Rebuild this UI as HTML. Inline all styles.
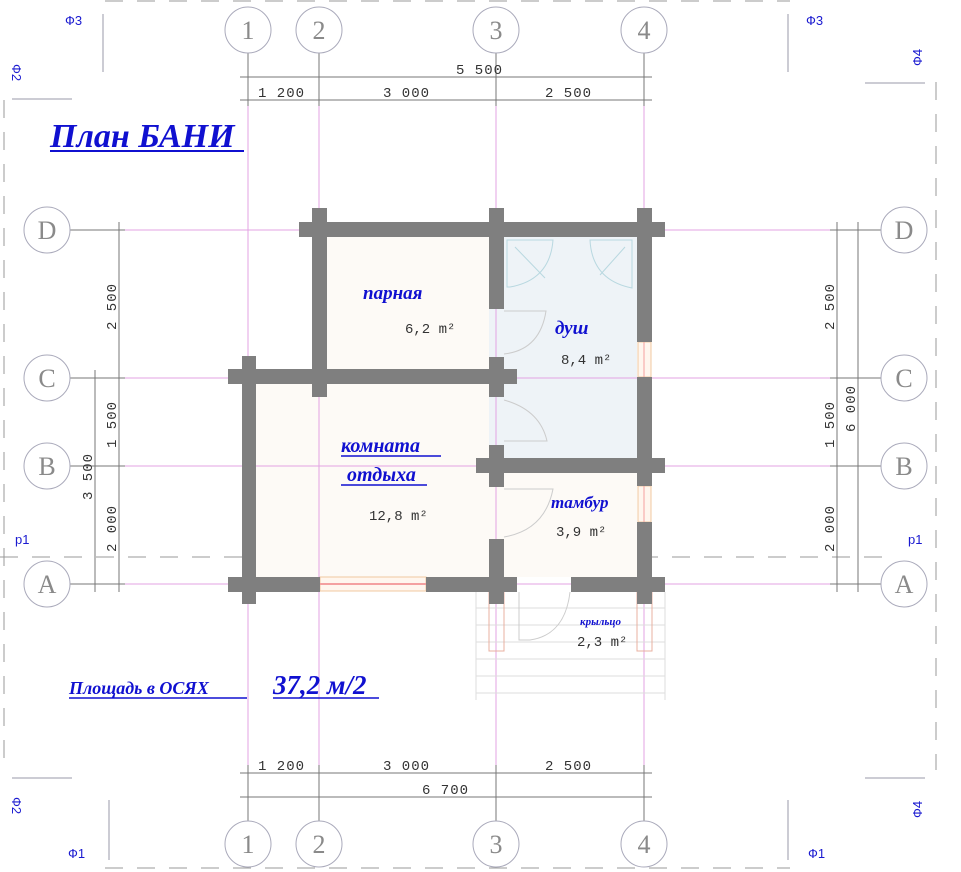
<!DOCTYPE html>
<html><head><meta charset="utf-8"><style>
html,body{margin:0;padding:0;background:#fff;width:961px;height:872px;overflow:hidden}
svg{display:block}
.ax{font-family:"Liberation Serif",serif;font-size:26px;fill:#8a8a8a;text-anchor:middle}
.dim{font-family:"Liberation Mono",monospace;font-size:14px;fill:#333;letter-spacing:1px}
.area{font-family:"Liberation Mono",monospace;font-size:14px;fill:#333}
.lbl{font-family:"Liberation Serif",serif;font-style:italic;font-weight:bold;fill:#1010d0}
.f{font-family:"Liberation Sans",sans-serif;font-size:13px;fill:#1a1ad0}
</style></head><body>
<svg width="961" height="872" viewBox="0 0 961 872" xmlns="http://www.w3.org/2000/svg">
<rect width="961" height="872" fill="#fff"/>
<g stroke="#999" stroke-width="1" stroke-dasharray="18,14" fill="none">
<line x1="105" y1="1" x2="790" y2="1"/>
<line x1="105" y1="868" x2="790" y2="868"/>
<line x1="4" y1="100" x2="4" y2="770"/>
<line x1="936" y1="82" x2="936" y2="770"/>
<line x1="0" y1="557" x2="890" y2="557"/>
</g>
<g stroke="#99a" stroke-width="1">
<line x1="103" y1="14" x2="103" y2="72"/><line x1="12" y1="99" x2="72" y2="99"/>
<line x1="788" y1="14" x2="788" y2="72"/><line x1="865" y1="83" x2="925" y2="83"/>
<line x1="12" y1="778" x2="72" y2="778"/><line x1="109" y1="800" x2="109" y2="860"/>
<line x1="865" y1="778" x2="925" y2="778"/><line x1="788" y1="800" x2="788" y2="860"/>
</g>
<text class="f" x="65" y="25">Ф3</text>
<text class="f" x="806" y="25">Ф3</text>
<text class="f" x="808" y="858">Ф1</text>
<text class="f" x="68" y="858">Ф1</text>
<text class="f" x="0" y="0" transform="translate(12,64) rotate(90)">Ф2</text>
<text class="f" x="0" y="0" transform="translate(12,797) rotate(90)">Ф2</text>
<text class="f" x="0" y="0" transform="translate(922,66) rotate(-90)">Ф4</text>
<text class="f" x="0" y="0" transform="translate(922,818) rotate(-90)">Ф4</text>
<text class="f" x="15" y="544">p1</text>
<text class="f" x="908" y="544">p1</text>

<rect x="327" y="237" width="162" height="132" fill="#fdfaf6"/>
<rect x="256" y="384" width="233" height="193" fill="#fdfaf6"/>
<rect x="489" y="237" width="148" height="221" fill="#eef3f7"/>
<rect x="489" y="473" width="148" height="104" fill="#fdfaf6"/>

<g stroke="#e3a3e3" stroke-width="1">
<line x1="248" y1="50" x2="248" y2="824"/><line x1="319" y1="50" x2="319" y2="824"/>
<line x1="496" y1="50" x2="496" y2="824"/><line x1="644" y1="50" x2="644" y2="824"/>
<line x1="70" y1="230" x2="880" y2="230"/><line x1="70" y1="378" x2="880" y2="378"/>
<line x1="70" y1="466" x2="880" y2="466"/><line x1="70" y1="584" x2="880" y2="584"/>
</g>
<g stroke="#777" stroke-width="1">
<line x1="240" y1="77" x2="652" y2="77"/><line x1="240" y1="100" x2="652" y2="100"/>
<line x1="240" y1="773" x2="652" y2="773"/><line x1="240" y1="797" x2="652" y2="797"/>
<line x1="119" y1="222" x2="119" y2="592"/><line x1="95" y1="370" x2="95" y2="592"/>
<line x1="837" y1="222" x2="837" y2="592"/><line x1="858" y1="222" x2="858" y2="592"/>
<line x1="248" y1="52" x2="248" y2="106"/><line x1="319" y1="52" x2="319" y2="106"/>
<line x1="496" y1="52" x2="496" y2="106"/><line x1="644" y1="52" x2="644" y2="106"/>
<line x1="248" y1="765" x2="248" y2="822"/><line x1="319" y1="765" x2="319" y2="822"/>
<line x1="496" y1="765" x2="496" y2="822"/><line x1="644" y1="765" x2="644" y2="822"/>
<line x1="70" y1="230" x2="125" y2="230"/><line x1="70" y1="378" x2="125" y2="378"/>
<line x1="70" y1="466" x2="125" y2="466"/><line x1="70" y1="584" x2="125" y2="584"/>
<line x1="830" y1="230" x2="882" y2="230"/><line x1="830" y1="378" x2="882" y2="378"/>
<line x1="830" y1="466" x2="882" y2="466"/><line x1="830" y1="584" x2="882" y2="584"/>
</g>
<text class="dim" x="456" y="74">5 500</text>
<text class="dim" x="258" y="97">1 200</text>
<text class="dim" x="383" y="97">3 000</text>
<text class="dim" x="545" y="97">2 500</text>
<text class="dim" x="258" y="770">1 200</text>
<text class="dim" x="383" y="770">3 000</text>
<text class="dim" x="545" y="770">2 500</text>
<text class="dim" x="422" y="794">6 700</text>
<g class="dim">
<text transform="translate(116,330) rotate(-90)">2 500</text>
<text transform="translate(116,448) rotate(-90)">1 500</text>
<text transform="translate(116,552) rotate(-90)">2 000</text>
<text transform="translate(92,500) rotate(-90)">3 500</text>
<text transform="translate(834,330) rotate(-90)">2 500</text>
<text transform="translate(834,448) rotate(-90)">1 500</text>
<text transform="translate(834,552) rotate(-90)">2 000</text>
<text transform="translate(855,432) rotate(-90)">6 000</text>
</g>

<g fill="#fff" stroke="#aab" stroke-width="1">
<circle cx="248" cy="30" r="23"/><circle cx="319" cy="30" r="23"/><circle cx="496" cy="30" r="23"/><circle cx="644" cy="30" r="23"/>
<circle cx="248" cy="844" r="23"/><circle cx="319" cy="844" r="23"/><circle cx="496" cy="844" r="23"/><circle cx="644" cy="844" r="23"/>
<circle cx="47" cy="230" r="23"/><circle cx="47" cy="378" r="23"/><circle cx="47" cy="466" r="23"/><circle cx="47" cy="584" r="23"/>
<circle cx="904" cy="230" r="23"/><circle cx="904" cy="378" r="23"/><circle cx="904" cy="466" r="23"/><circle cx="904" cy="584" r="23"/>
</g>
<g class="ax">
<text x="248" y="39">1</text><text x="319" y="39">2</text><text x="496" y="39">3</text><text x="644" y="39">4</text>
<text x="248" y="853">1</text><text x="319" y="853">2</text><text x="496" y="853">3</text><text x="644" y="853">4</text>
<text x="47" y="239">D</text><text x="47" y="387">C</text><text x="47" y="475">B</text><text x="47" y="593">A</text>
<text x="904" y="239">D</text><text x="904" y="387">C</text><text x="904" y="475">B</text><text x="904" y="593">A</text>
</g>

<g fill="none" stroke="#b8d8e0" stroke-width="1">
<path d="M507 240 H553 Q550 280 510 287 H507 Z"/>
<path d="M632 240 H590 Q592 280 632 288 Z"/>
<line x1="515" y1="247" x2="545" y2="278"/><line x1="625" y1="247" x2="600" y2="275"/>
</g>
<g stroke="#ddd" stroke-width="1">
<line x1="476" y1="608" x2="665" y2="608"/><line x1="476" y1="625" x2="665" y2="625"/>
<line x1="476" y1="642" x2="665" y2="642"/><line x1="476" y1="659" x2="665" y2="659"/>
<line x1="476" y1="676" x2="665" y2="676"/><line x1="476" y1="693" x2="665" y2="693"/>
<line x1="476" y1="592" x2="476" y2="700"/><line x1="665" y1="592" x2="665" y2="700"/>
</g>
<g fill="none" stroke="#e8b0a0" stroke-width="1">
<rect x="489" y="592" width="15" height="59"/><rect x="637" y="592" width="15" height="59"/>
</g>
<g fill="none" stroke="#ccc" stroke-width="1">
<path d="M504 311 H546 Q540 350 504 354"/>
<path d="M504 400 Q540 410 547 441 H504"/>
<path d="M504 489 H553 Q545 530 504 537"/>
<path d="M519 592 V640 H530 Q565 635 570 592"/>
</g>
<rect x="320" y="577" width="106" height="14" fill="#fff6ee" stroke="#f0c8a0"/>
<line x1="320" y1="584" x2="426" y2="584" stroke="#f4a0a0" stroke-width="2"/>
<rect x="638" y="342" width="13" height="35" fill="#fff6ee" stroke="#f0c8a0"/>
<rect x="638" y="486" width="13" height="36" fill="#fff6ee" stroke="#f0c8a0"/>
<line x1="644" y1="342" x2="644" y2="377" stroke="#f4a0a0"/>
<line x1="644" y1="486" x2="644" y2="522" stroke="#f4a0a0"/>

<g fill="#7f7f7f">
<rect x="299" y="222" width="366" height="15"/>
<rect x="312" y="208" width="15" height="189"/>
<rect x="489" y="208" width="15" height="101"/>
<rect x="489" y="357" width="15" height="40"/>
<rect x="489" y="445" width="15" height="42"/>
<rect x="489" y="539" width="15" height="65"/>
<rect x="637" y="208" width="15" height="134"/>
<rect x="637" y="377" width="15" height="109"/>
<rect x="637" y="522" width="15" height="82"/>
<rect x="228" y="369" width="289" height="15"/>
<rect x="242" y="356" width="14" height="248"/>
<rect x="476" y="458" width="189" height="15"/>
<rect x="228" y="577" width="92" height="15"/>
<rect x="426" y="577" width="91" height="15"/>
<rect x="571" y="577" width="94" height="15"/>
</g>

<text class="lbl" x="50" y="147" font-size="34">План БАНИ</text>
<line x1="50" y1="151" x2="244" y2="151" stroke="#1010d0" stroke-width="2"/>
<text class="lbl" x="363" y="299" font-size="19">парная</text>
<text class="area" x="405" y="333">6,2 m²</text>
<text class="lbl" x="555" y="334" font-size="19">душ</text>
<text class="area" x="561" y="364">8,4 m²</text>
<text class="lbl" x="341" y="452" font-size="20">комната</text>
<line x1="341" y1="456" x2="441" y2="456" stroke="#1010d0" stroke-width="1.5"/>
<text class="lbl" x="347" y="481" font-size="20">отдыха</text>
<line x1="341" y1="485" x2="427" y2="485" stroke="#1010d0" stroke-width="1.5"/>
<text class="area" x="369" y="520">12,8 m²</text>
<text class="lbl" x="551" y="508" font-size="17">тамбур</text>
<text class="area" x="556" y="536">3,9 m²</text>
<text class="lbl" x="580" y="625" font-size="11">крыльцо</text>
<text class="area" x="577" y="646">2,3 m²</text>
<text class="lbl" x="69" y="694" font-size="18">Площадь в ОСЯХ</text>
<line x1="69" y1="698" x2="247" y2="698" stroke="#1010d0" stroke-width="1.5"/>
<text class="lbl" x="273" y="694" font-size="27">37,2 м/2</text>
<line x1="273" y1="698" x2="379" y2="698" stroke="#1010d0" stroke-width="1.5"/>
</svg>
</body></html>
